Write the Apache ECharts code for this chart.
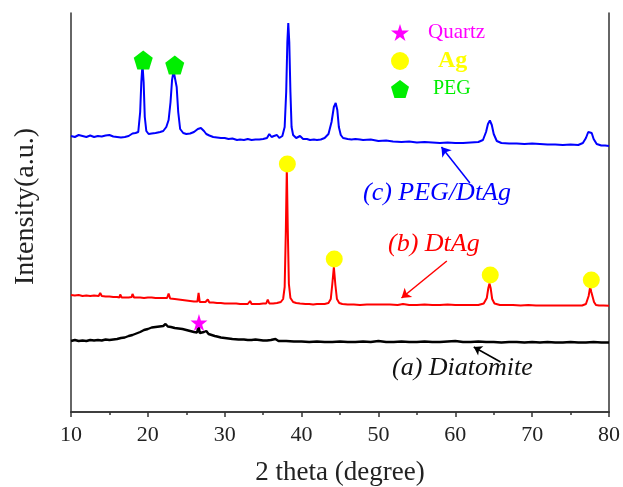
<!DOCTYPE html>
<html>
<head>
<meta charset="utf-8">
<script src="https://cdn.jsdelivr.net/npm/echarts@6/dist/echarts.min.js"></script>
<style>html,body{margin:0;padding:0;background:#fff}#c{width:623px;height:487px}</style>
</head>
<body>
<div id="c"></div>
<script>
// x tick labels
const xTicks = [10, 20, 30, 40, 50, 60, 70, 80];

// (c) PEG/DtAg  [2theta, intensity a.u.]
const pegDtAg = [[10,276],[10.5,275],[11,277],[11.5,276],[12,275],[12.5,276.5],[13,275],[13.5,276],[14,275.5],[14.5,276.5],[15,277],[15.5,275.5],[16,275],[16.5,274.5],[17,275],[17.5,276],[18,278.5],[18.4,279],[18.75,280],[19.0,300],[19.15,330],[19.3,348],[19.45,330],[19.6,295],[19.8,281],[20.1,278],[20.5,278.5],[21,279],[21.6,280],[22,281],[22.4,285],[22.7,292],[22.95,310],[23.15,332],[23.35,341],[23.55,340],[23.75,325],[23.95,300],[24.2,283],[24.6,279],[25,278],[25.5,278.5],[26,280],[26.5,283],[26.9,284],[27.3,281],[27.6,278],[28,276.5],[28.2,278],[28.5,275],[29,274.5],[29.5,274],[30,274],[30.5,273],[31,273.5],[31.6,272],[32,272.5],[32.5,272],[33,273],[33.5,272],[34,272.5],[34.5,272.5],[35,273],[35.5,274],[35.8,278],[36.1,275],[36.4,276],[36.8,277],[37.1,274],[37.5,276],[37.8,285],[38.0,320],[38.15,370],[38.27,389],[38.4,370],[38.55,320],[38.7,285],[38.9,277],[39.3,274],[39.8,276],[40.2,273],[40.7,273],[41.1,272],[41.6,272.5],[42,272],[42.5,272.5],[43,274],[43.5,278],[43.9,290],[44.2,305],[44.44,309],[44.65,302],[44.85,285],[45.1,277],[45.4,274],[46,273],[46.5,272.5],[47,273],[47.6,272.5],[48,272],[49,272.5],[50,271],[51,271.5],[51.9,270.5],[53,270],[54,270.5],[55,269.5],[56,270],[57,269.5],[58,269],[59,269.5],[60,269],[61,269],[62,269.5],[63,270],[63.6,272],[64.0,280],[64.25,288],[64.5,291.5],[64.75,287],[65.0,278],[65.4,271],[66,269],[67,268.5],[68,268.5],[69,268],[70,268.5],[71,268],[72,267.5],[73,267.5],[74,267],[75,267.5],[76,267],[76.6,269],[77.0,274],[77.3,280],[77.5,282],[77.75,279],[78.0,273],[78.4,268],[79,266.5],[79.5,266.5],[80,266]];

// (b) DtAg
const dtAg = [[10,117],[10.5,116.5],[11,117],[11.5,116],[12,116.5],[12.5,116],[13,116.5],[13.6,116],[13.8,119],[14,116],[14.5,115.5],[15,115.5],[15.5,115],[16,115],[16.3,114.5],[16.4,117.5],[16.6,114.5],[17,114.5],[17.5,114.5],[17.9,115],[18.0,118],[18.2,114.5],[18.5,114.5],[19,114.5],[19.5,114],[20,114.5],[20.5,114.5],[20.7,116],[21,114],[21.5,114],[22,114],[22.5,114],[22.7,118.5],[22.9,113.5],[23.5,113],[24,112.5],[24.5,112],[25,111.5],[25.5,111],[26,110.5],[26.45,110.5],[26.6,119],[26.75,110],[27,110.5],[27.5,110],[27.8,112.5],[28,109.5],[28.5,109.5],[29,109],[29.5,109],[30,108.5],[30.5,108.5],[31,108.5],[31.5,108.5],[32,108],[32.5,108],[33,108],[33.3,111],[33.5,108],[34,108],[34.5,108],[35,108.5],[35.4,108.5],[35.6,112.5],[35.8,108.5],[36.3,108.5],[36.8,109],[37.3,110],[37.6,113],[37.8,125],[37.95,180],[38.08,244],[38.2,185],[38.35,128],[38.55,114],[38.9,110],[39.3,109],[39.8,108.5],[40.5,108],[41,108],[41.5,107.5],[42,108],[42.5,108],[43,108],[43.5,109],[43.8,113],[44.0,128],[44.2,145],[44.4,127],[44.6,113],[44.9,109],[45.3,108],[46,107.5],[46.8,107.5],[47.6,107],[48.5,107.5],[49.5,107.5],[50.5,107.5],[51.5,107.5],[52.5,107],[53.2,108],[54,107],[55,107],[56,107.5],[57,107],[58,107],[59,107.5],[60,107],[61,107],[62,107],[63,107],[63.7,108.5],[64.1,114],[64.3,124],[64.45,128.5],[64.6,124],[64.8,113],[65.1,108.5],[65.8,107],[66.5,107],[67.5,107],[68.5,106.5],[69.5,107],[70.5,106.5],[71.5,106.5],[72.5,106.5],[73.5,106.5],[74.5,106.5],[75.5,106.5],[76.5,106.5],[77.0,108],[77.35,116],[77.55,125],[77.7,120],[77.85,118],[78.05,110],[78.3,107],[78.7,106.5],[79.3,106.5],[80,106.3]];

// (a) Diatomite
const diatomite = [[10,71],[10.5,72],[11,71],[11.5,71.5],[12,71],[12.5,72],[13,71.5],[13.5,72],[14,71.5],[14.5,72.5],[15,72],[15.5,72.5],[16,73],[16.5,74],[17,74.5],[17.5,76],[18,77],[18.5,78.5],[19,80],[19.5,82],[20,83],[20.5,84.5],[21,85],[21.5,85.5],[22,86],[22.3,88],[22.6,85.5],[23,85],[23.5,84],[24,83.5],[24.5,83],[25,82],[25.5,81],[26,80],[26.4,79.5],[26.6,86.5],[26.75,79],[27.0,78.5],[27.3,80],[27.6,81],[27.9,78],[28.3,77],[28.7,76],[29,75.5],[29.5,74.5],[30,74],[30.5,73.5],[31,73],[31.8,72.5],[32.5,72.5],[33,72],[33.5,72],[34,72.5],[34.5,72],[35,71.5],[35.5,71.5],[36,72],[36.6,73],[37,71],[37.5,71],[38,71],[39,70.5],[40,70.5],[41,70],[42,70.5],[43,70],[44,70],[45,70.5],[46,70],[47,70],[48,70.5],[49,70],[50,71],[51,70],[52,70],[53,70.5],[54,70],[55,70],[56,70.5],[57,70],[58,70],[59,70.5],[60,71],[61,70],[62,70],[63,70.5],[64,70],[65,70],[66,69.5],[67,70],[68,70],[69,69.5],[70,70],[71,69.5],[72,70],[73,69.5],[74,69.5],[75,70],[76,69.5],[77,69.5],[78,70],[79,69.5],[80,69.5]];

// phase markers
const quartzPts = [[26.65, 89.5]];
const agPts = [[38.15, 248], [44.25, 153], [64.55, 137], [77.7, 132]];
const pegPts = [[19.4, 352], [23.5, 347]];

const STAR = 'path://M50,0 L61,35 L98,35 L68,57 L79,91 L50,70 L21,91 L32,57 L2,35 L39,35 Z';
const PENT = 'path://M50,0 L100,38 L81,100 L19,100 L0,38 Z';
const SERIF = '"Liberation Serif","Times New Roman",serif';

const chart = echarts.init(document.getElementById('c'), null, {renderer: 'canvas'});
const axisLineStyle = {color: '#333', width: 1.5};

chart.setOption({
  backgroundColor: '#fff',
  animation: false,
  grid: {left: 71, right: 14, top: 13, bottom: 75, outerBoundsMode: 'none', containLabel: false},
  legend: {
    orient: 'vertical', left: 386, top: 17, itemWidth: 18, itemHeight: 18, itemGap: 6,
    selectedMode: false,
    data: [
      {name: 'Quartz', icon: STAR, textStyle: {color: '#ff00ff', fontSize: 21, fontFamily: SERIF, padding: [0,0,0,14]}},
      {name: 'Ag', icon: 'circle', textStyle: {color: '#ffff00', fontSize: 24, fontWeight: 'bold', fontFamily: SERIF, padding: [0,0,0,24]}},
      {name: 'PEG', icon: PENT, textStyle: {color: '#00ee00', fontSize: 20, fontFamily: SERIF, padding: [0,0,0,19]}}
    ]
  },
  xAxis: [{
    type: 'value', min: 10, max: 80, interval: 10,
    name: '2 theta (degree)', nameLocation: 'middle', nameGap: 47,
    nameTextStyle: {fontFamily: SERIF, fontSize: 27, color: '#222'},
    axisLine: {show: true, lineStyle: axisLineStyle},
    axisTick: {show: true, length: 5, lineStyle: axisLineStyle},
    minorTick: {show: true, splitNumber: 2, length: 3, lineStyle: axisLineStyle},
    axisLabel: {fontFamily: SERIF, fontSize: 22, color: '#222', margin: 12,
      formatter: v => xTicks.includes(v) ? String(v) : ''},
    splitLine: {show: false}
  }, {
    type: 'value', min: 10, max: 80, position: 'top',
    axisLine: {show: true, lineStyle: axisLineStyle},
    axisTick: {show: false}, axisLabel: {show: false}, splitLine: {show: false}
  }],
  yAxis: [{
    type: 'value', min: 0, max: 399,
    name: 'Intensity(a.u.)', nameLocation: 'middle', nameGap: 31,
    nameTextStyle: {fontFamily: SERIF, fontSize: 28, color: '#222', padding: [0, 0, 0, 12]},
    axisLine: {show: true, lineStyle: axisLineStyle},
    axisTick: {show: false}, axisLabel: {show: false}, splitLine: {show: false}
  }, {
    type: 'value', min: 0, max: 399, position: 'right',
    axisLine: {show: true, lineStyle: axisLineStyle},
    axisTick: {show: false}, axisLabel: {show: false}, splitLine: {show: false}
  }],
  series: [
    {name: 'PEG/DtAg', type: 'line', data: pegDtAg, showSymbol: false, lineStyle: {color: '#0000ff', width: 2}, itemStyle: {color: '#0000ff'},
      markLine: {silent: true, symbol: ['none', 'arrow'], symbolSize: 9, label: {show: false},
        lineStyle: {color: '#0000ff', width: 1.5, type: 'solid'},
        data: [[{coord: [61.9, 229]}, {coord: [58.2, 265]}]]}},
    {name: 'DtAg', type: 'line', data: dtAg, showSymbol: false, lineStyle: {color: '#ff0000', width: 2}, itemStyle: {color: '#ff0000'},
      markLine: {silent: true, symbol: ['none', 'arrow'], symbolSize: 9, label: {show: false},
        lineStyle: {color: '#ff0000', width: 1.5, type: 'solid'},
        data: [[{coord: [58.9, 151]}, {coord: [53.0, 114]}]]}},
    {name: 'Diatomite', type: 'line', data: diatomite, showSymbol: false, lineStyle: {color: '#000', width: 2.4}, itemStyle: {color: '#000'},
      markLine: {silent: true, symbol: ['none', 'arrow'], symbolSize: 8, label: {show: false},
        lineStyle: {color: '#000', width: 1.5, type: 'solid'},
        data: [[{coord: [65.9, 50]}, {coord: [62.4, 65]}]]}},
    {name: 'Quartz', type: 'scatter', data: quartzPts, symbol: STAR, symbolSize: 17, itemStyle: {color: '#ff00ff', opacity: 1}, z: 5},
    {name: 'Ag', type: 'scatter', data: agPts, symbol: 'circle', symbolSize: 17, itemStyle: {color: '#ffff00', opacity: 1}, z: 5},
    {name: 'PEG', type: 'scatter', data: pegPts, symbol: PENT, symbolSize: 19, itemStyle: {color: '#00ee00', opacity: 1}, z: 5}
  ],
  graphic: [
    {type: 'text', left: 363, top: 180, style: {text: '(c) PEG/DtAg', fill: '#0000ff', font: 'italic 26px ' + SERIF}},
    {type: 'text', left: 388, top: 231, style: {text: '(b) DtAg', fill: '#ff0000', font: 'italic 26px ' + SERIF}},
    {type: 'text', left: 392, top: 355, style: {text: '(a) Diatomite', fill: '#111', font: 'italic 26px ' + SERIF}}
  ]
});
</script>
</body>
</html>
